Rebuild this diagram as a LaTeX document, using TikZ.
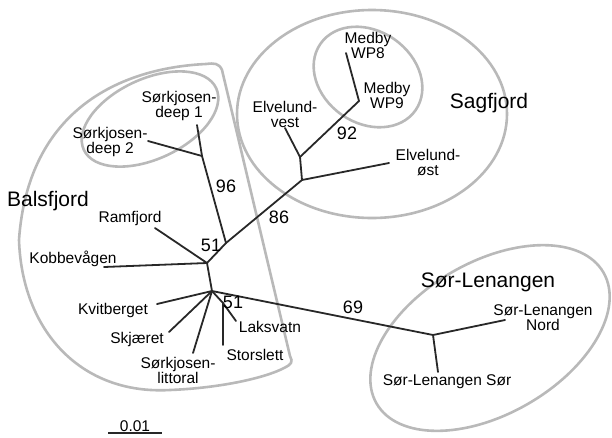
\documentclass[tikz,border=0pt]{standalone}
\usepackage{fontspec}
\setmainfont{Liberation Sans}
\definecolor{hullgray}{RGB}{185,185,185}
\definecolor{treegray}{RGB}{40,40,40}
\begin{document}
\begin{tikzpicture}[x=1pt,y=-1pt,
  hull/.style={draw=hullgray, line width=2.6pt},
  br/.style={draw=treegray, line width=1.8pt, line cap=round, line join=round},
  lab/.style={font=\fontsize{15.5}{15}\selectfont, inner sep=0pt, text height=11pt, text depth=0pt},
  lab2/.style={font=\fontsize{15.5}{15}\selectfont, inner sep=0pt, align=center},
  num/.style={font=\fontsize{18}{18}\selectfont, inner sep=0pt, text height=13pt, text depth=0pt},
  big/.style={font=\fontsize{21}{21}\selectfont, inner sep=0pt, text height=15pt, text depth=0pt}]
\useasboundingbox (0,0) rectangle (612,437);

% hulls
\draw[hull] (290,356) -- (222,70) .. controls (219,63) and (214,63) .. (206,64)
  .. controls (120,68) and (28,110) .. (19,240)
  .. controls (22,330) and (80,395) .. (170,390)
  .. controls (220,388) and (265,378) .. (284,368)
  .. controls (292,364) and (293,362) .. cycle;
\draw[hull, rotate around={25:(150,119)}] (150,119) ellipse [x radius=73pt, y radius=40pt];
\draw[hull] (372,114) ellipse [x radius=135pt, y radius=104pt];
\draw[hull, rotate around={-35:(368,77)}] (368,77) ellipse [x radius=58pt, y radius=46pt];
\draw[hull, rotate around={30:(490,338)}] (490,338) ellipse [x radius=131pt, y radius=76pt];

% tree points
\coordinate (d1) at (197,125);
\coordinate (d2) at (148,141);
\coordinate (dj) at (202,156);
\coordinate (u51) at (226,243);
\coordinate (sj) at (302,180);
\coordinate (sv) at (300,157);
\coordinate (ev) at (285,128);
\coordinate (mj) at (359,101);
\coordinate (m8) at (346,53);
\coordinate (eo) at (389,163);
\coordinate (rj) at (207,263);
\coordinate (ram) at (155,228);
\coordinate (kob) at (104,267);
\coordinate (lo) at (212,291);
\coordinate (kv) at (157,304);
\coordinate (skj) at (169,332);
\coordinate (slt) at (193,353);
\coordinate (lm) at (223,303);
\coordinate (lak) at (236,321);
\coordinate (sto) at (223,345);
\coordinate (slj) at (433,335);
\coordinate (sln) at (505,320);
\coordinate (sls) at (438,372);
\coordinate (sb1) at (108,433);
\coordinate (sb2) at (162,433);

% branches
\draw[br] (d1) -- (dj);
\draw[br] (d2) -- (dj);
\draw[br] (dj) -- (u51);
\draw[br] (u51) -- (sj);
\draw[br] (sj) -- (sv);
\draw[br] (sv) -- (ev);
\draw[br] (sv) -- (mj);
\draw[br] (mj) -- (m8);
\draw[br] (sj) -- (eo);
\draw[br] (u51) -- (rj);
\draw[br] (ram) -- (rj);
\draw[br] (kob) -- (rj);
\draw[br] (rj) -- (lo);
\draw[br] (lo) -- (kv);
\draw[br] (lo) -- (skj);
\draw[br] (lo) -- (slt);
\draw[br] (lo) -- (lm);
\draw[br] (lm) -- (lak);
\draw[br] (lm) -- (sto);
\draw[br] (lo) -- (slj);
\draw[br] (slj) -- (sln);
\draw[br] (slj) -- (sls);
\draw[br, line cap=butt] (sb1) -- (sb2);

% labels
\node[lab2] (lD1) at (179,106) {Sørkjosen-\\deep 1};
\node[lab2] (lD2) at (110,142) {Sørkjosen-\\deep 2};
\node[big] (lBal) at (48,199) {Balsfjord};
\node[lab] (lRam) at (130,217) {Ramfjord};
\node[num] (n96) at (226,186) {96};
\node[num] (n86) at (279,217) {86};
\node[num] (n51a) at (211,245) {51};
\node[lab] (lKob) at (73,258) {Kobbevågen};
\node[lab] (lKv) at (113,309) {Kvitberget};
\node[lab] (lSk) at (137,338) {Skjæret};
\node[lab2] (lSLit) at (178,370) {Sørkjosen-\\littoral};
\node[num] (n51b) at (233,302) {51};
\node[lab] (lLak) at (270,327) {Laksvatn};
\node[lab] (lSto) at (255,355) {Storslett};
\node[lab] (lsc) at (135,426) {0.01};
\node[lab2] (lM8) at (368,45) {Medby\\WP8};
\node[lab2] (lM9) at (387,95) {Medby\\WP9};
\node[lab2] (lEv) at (285,114) {Elvelund-\\vest};
\node[num] (n92) at (347,133) {92};
\node[big] (lSag) at (489,101) {Sagfjord};
\node[lab2] (lEo) at (428,163) {Elvelund-\\øst};
\node[big] (lSLen) at (488,280) {Sør-Lenangen};
\node[num] (n69) at (353,307) {69};
\node[lab2] (lSLN) at (543,318) {Sør-Lenangen\\Nord};
\node[lab] (lSLS) at (447,380) {Sør-Lenangen Sør};
\end{tikzpicture}
\end{document}
